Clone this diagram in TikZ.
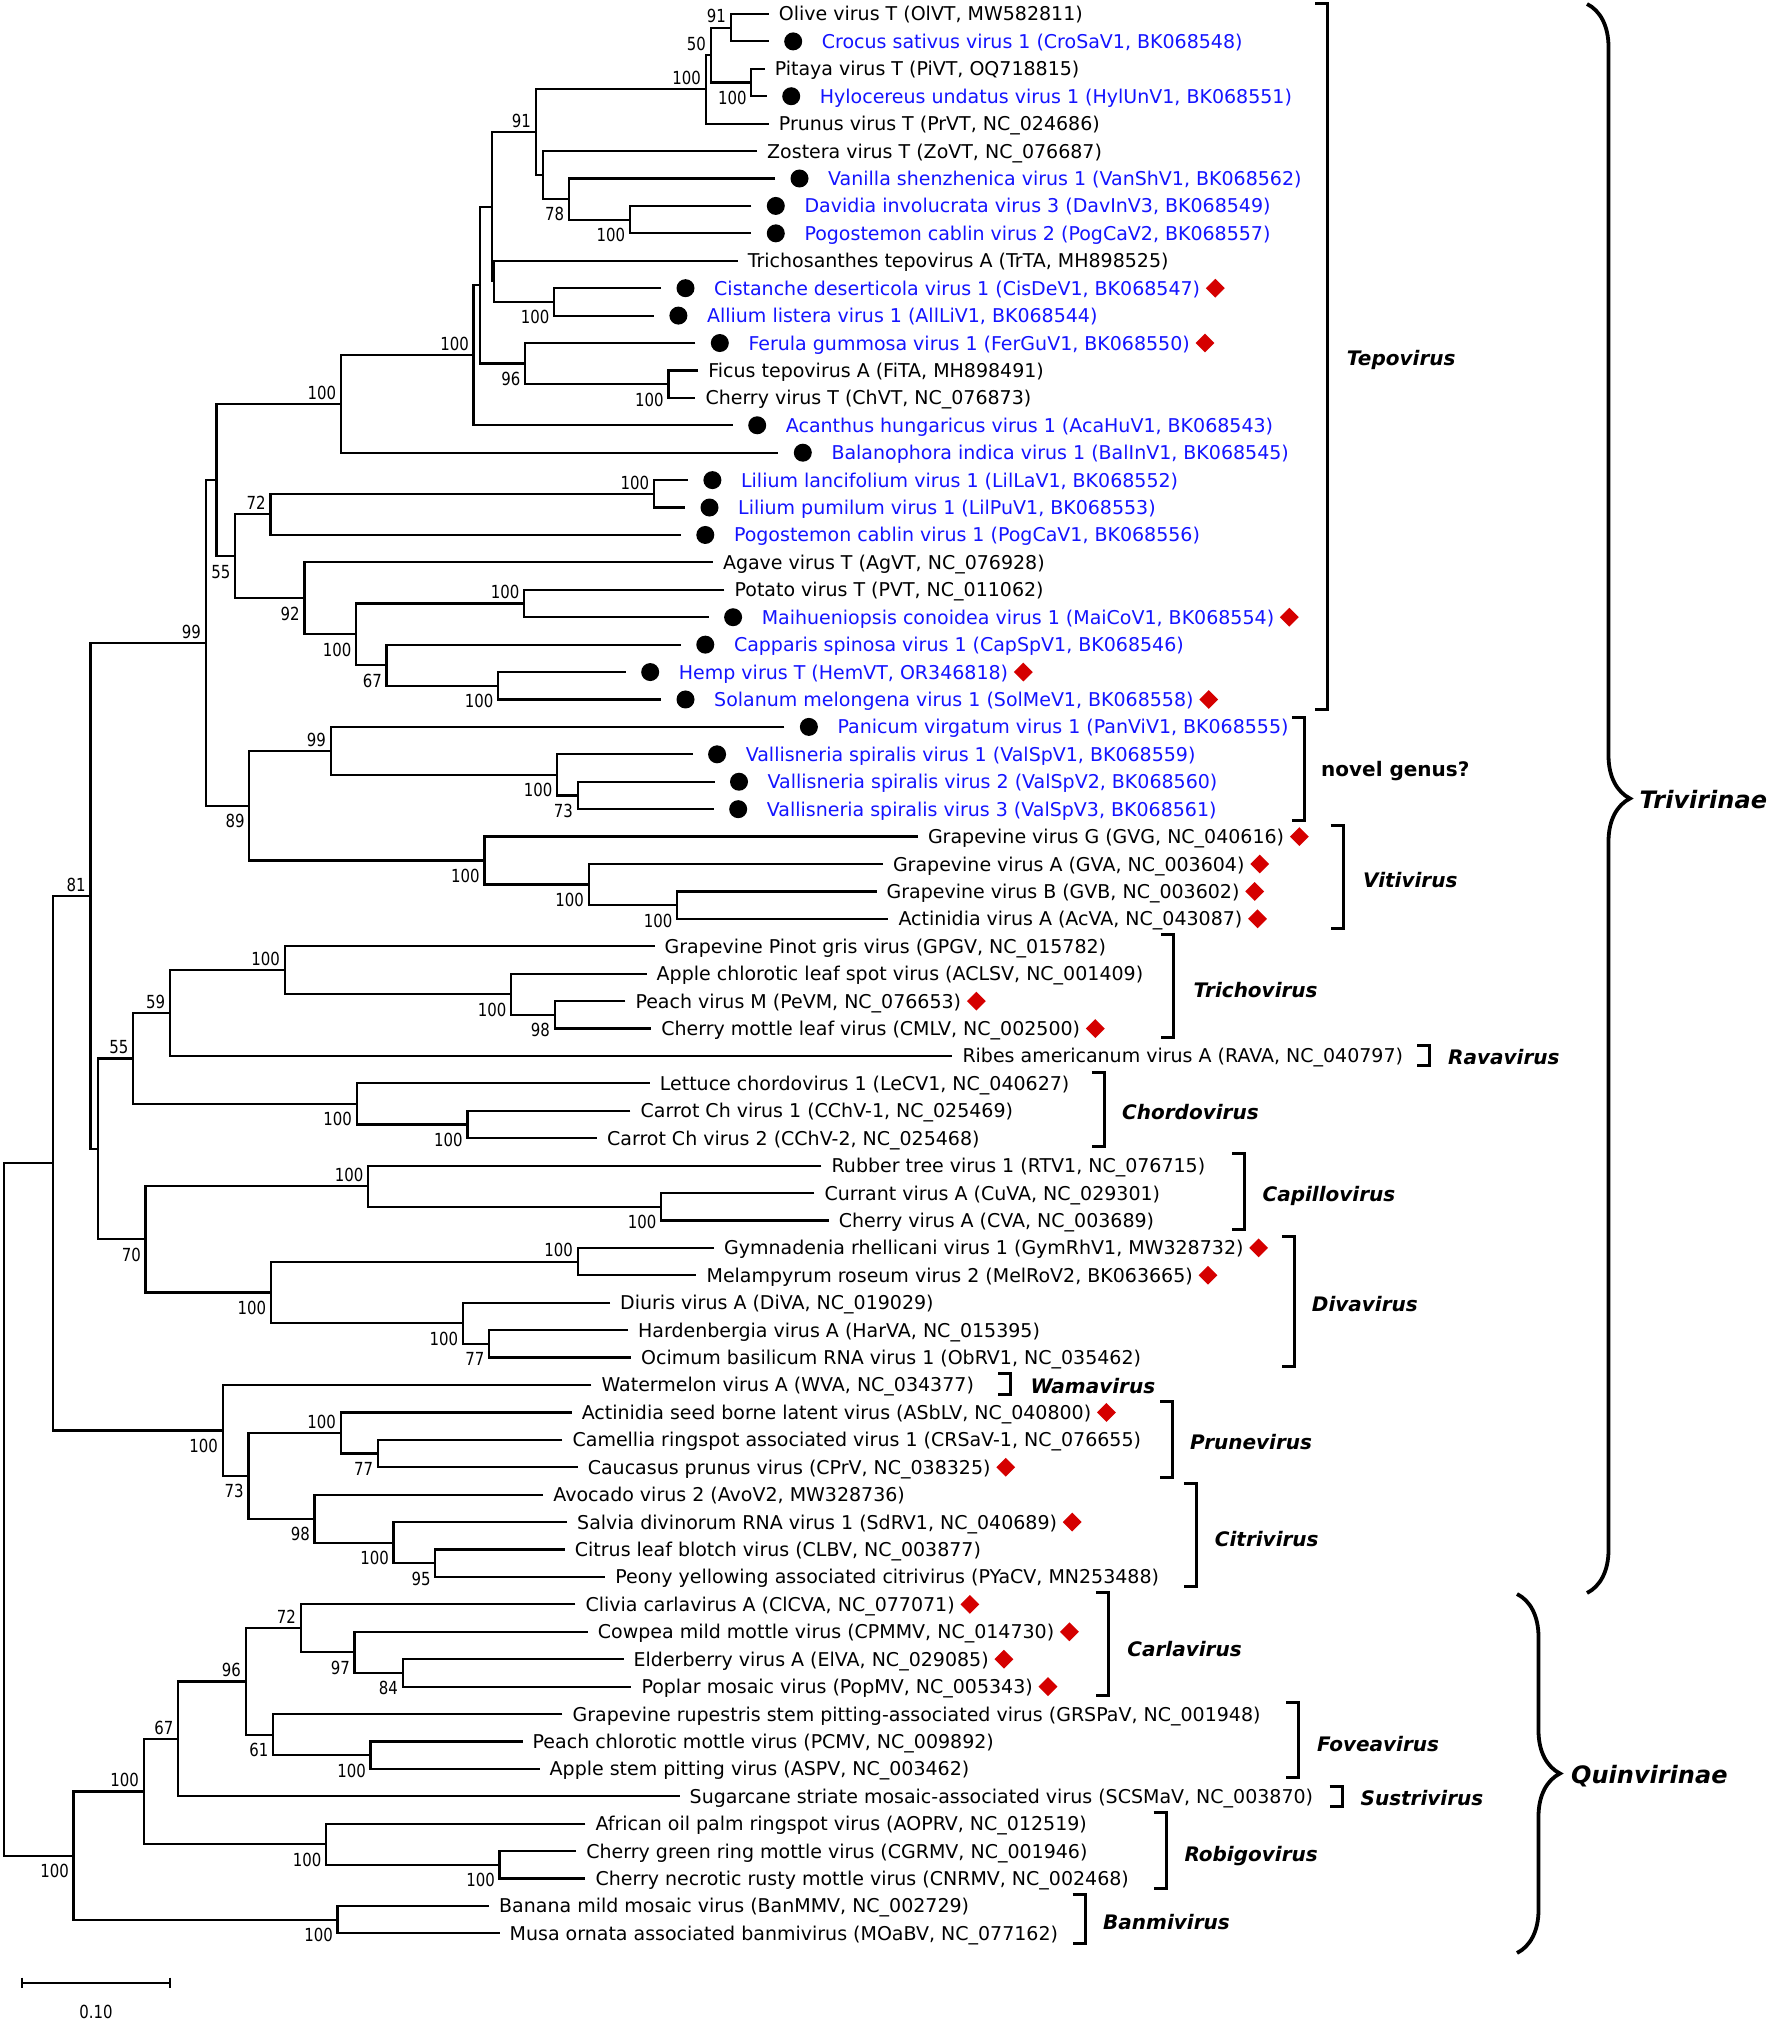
\documentclass[tikz,border=0pt]{standalone}
\usepackage{fontspec}
\setmainfont{DejaVu Sans}
\newfontfamily\bsfont[FakeStretch=0.83]{DejaVu Sans}
\usetikzlibrary{calc,shapes.geometric,decorations.pathreplacing}
\definecolor{vblue}{RGB}{20,20,255}
\definecolor{dred}{RGB}{213,0,0}
% leaf (black): name, end x, row, text
\newcommand\mkLK[4]{\coordinate (#1) at (#2,{ry(#3)});
  \node[tx] (#1t) at ([xshift=10pt,yshift=-7pt]#1) {#4};}
% leaf (blue, dot): name, end x, row, text
\newcommand\mkLB[4]{\coordinate (#1) at (#2,{ry(#3)});
  \node[dotb] (#1d) at ([xshift=24.5pt]#1) {};
  \node[tx,text=vblue] (#1t) at ([xshift=53pt,yshift=-7pt]#1) {#4};}
% red diamond after a leaf text
\newcommand\mkDM[1]{\node[diam] (#1m) at ([xshift=15pt,yshift=7pt]#1t.base east) {};}
% internal node: name, x, upper child, lower child
\newcommand\mkIN[4]{\path let \p1=(#3), \p2=(#4) in coordinate (#1) at (#2pt,{0.5*(\y1+\y2)});
  \draw[br] (#3) -| (#1) |- (#4);}
% bootstrap above / below
\newcommand\mkBa[2]{\node[bs] (#1L) at ([xshift=-4.5pt,yshift=4.8pt]#1) {#2};}
\newcommand\mkBb[2]{\node[bs] (#1L) at ([xshift=-4.5pt,yshift=-21.9pt]#1) {#2};}
% bracket: name, x, ytop, ybottom (image coordinates)
\newcommand\mkBrk[4]{\coordinate (#1a) at ({#2-12.5},{fy(#3)});
  \coordinate (#1b) at (#2,{fy(#3)});
  \coordinate (#1c) at (#2,{fy(#4)});
  \coordinate (#1d) at ({#2-12.5},{fy(#4)});
  \draw[bk] (#1a) -- (#1b) -- (#1c) -- (#1d);}
% clade label: name, x, y centre (image coordinates), text
\newcommand\mkCl[4]{\node[cl] (#1) at (#2,{fy(#3)-7.3}) {#4};}
\begin{document}
\begin{tikzpicture}[x=1pt,y=1pt,
  declare function={ry(\x)=2008-(\x-1)*27.42; fy(\x)=2022-\x;},
  br/.style={line width=2.2pt},
  bk/.style={line width=3pt},
  bc/.style={line width=3.8pt, decorate, decoration={brace, amplitude=43pt}},
  tx/.style={anchor=base west, inner sep=0pt, font=\fontsize{19}{22}\selectfont},
  bs/.style={anchor=base east, inner sep=0pt, font=\bsfont\fontsize{18}{20}\selectfont},
  dotb/.style={circle, fill=black, minimum size=18pt, inner sep=0pt},
  diam/.style={diamond, aspect=1, fill=dred, minimum width=19pt, minimum height=19pt, inner sep=0pt},
  cl/.style={anchor=base west, inner sep=0pt, font=\fontsize{20}{24}\selectfont\bfseries\itshape},
  sub/.style={anchor=base west, inner sep=0pt, font=\fontsize{24}{28}\selectfont\bfseries\itshape},
]
\path[use as bounding box, fill=white] (0,0) rectangle (1772,2022);

% ---------- leaves ----------
\mkLK{L1}{768.7}{1}{Olive virus T (OlVT, MW582811)}
\mkLB{L2}{768.7}{2}{Crocus sativus virus 1 (CroSaV1, BK068548)}
\mkLK{L3}{764.6}{3}{Pitaya virus T (PiVT, OQ718815)}
\mkLB{L4}{766.7}{4}{Hylocereus undatus virus 1 (HylUnV1, BK068551)}
\mkLK{L5}{768.7}{5}{Prunus virus T (PrVT, NC\_024686)}
\mkLK{L6}{757}{6}{Zostera virus T (ZoVT, NC\_076687)}
\mkLB{L7}{775}{7}{Vanilla shenzhenica virus 1 (VanShV1, BK068562)}
\mkLB{L8}{751.3}{8}{Davidia involucrata virus 3 (DavInV3, BK068549)}
\mkLB{L9}{751.3}{9}{Pogostemon cablin virus 2 (PogCaV2, BK068557)}
\mkLK{L10}{737.6}{10}{Trichosanthes tepovirus A (TrTA, MH898525)}
\mkLB{L11}{661}{11}{Cistanche deserticola virus 1 (CisDeV1, BK068547)} \mkDM{L11}
\mkLB{L12}{653.9}{12}{Allium listera virus 1 (AllLiV1, BK068544)}
\mkLB{L13}{695.3}{13}{Ferula gummosa virus 1 (FerGuV1, BK068550)} \mkDM{L13}
\mkLK{L14}{698.2}{14}{Ficus tepovirus A (FiTA, MH898491)}
\mkLK{L15}{695.3}{15}{Cherry virus T (ChVT, NC\_076873)}
\mkLB{L16}{732.7}{16}{Acanthus hungaricus virus 1 (AcaHuV1, BK068543)}
\mkLB{L17}{778.3}{17}{Balanophora indica virus 1 (BalInV1, BK068545)}
\mkLB{L18}{687.9}{18}{Lilium lancifolium virus 1 (LilLaV1, BK068552)}
\mkLB{L19}{685}{19}{Lilium pumilum virus 1 (LilPuV1, BK068553)}
\mkLB{L20}{680.8}{20}{Pogostemon cablin virus 1 (PogCaV1, BK068556)}
\mkLK{L21}{712.8}{21}{Agave virus T (AgVT, NC\_076928)}
\mkLK{L22}{724.4}{22}{Potato virus T (PVT, NC\_011062)}
\mkLB{L23}{708.6}{23}{Maihueniopsis conoidea virus 1 (MaiCoV1, BK068554)} \mkDM{L23}
\mkLB{L24}{680.8}{24}{Capparis spinosa virus 1 (CapSpV1, BK068546)}
\mkLB{L25}{625.7}{25}{Hemp virus T (HemVT, OR346818)} \mkDM{L25}
\mkLB{L26}{661}{26}{Solanum melongena virus 1 (SolMeV1, BK068558)} \mkDM{L26}
\mkLB{L27}{784.4}{27}{Panicum virgatum virus 1 (PanViV1, BK068555)}
\mkLB{L28}{692.6}{28}{Vallisneria spiralis virus 1 (ValSpV1, BK068559)}
\mkLB{L29}{714.5}{29}{Vallisneria spiralis virus 2 (ValSpV2, BK068560)}
\mkLB{L30}{713.7}{30}{Vallisneria spiralis virus 3 (ValSpV3, BK068561)}
\mkLK{L31}{917.8}{31}{Grapevine virus G (GVG, NC\_040616)} \mkDM{L31}
\mkLK{L32}{882.8}{32}{Grapevine virus A (GVA, NC\_003604)} \mkDM{L32}
\mkLK{L33}{876.5}{33}{Grapevine virus B (GVB, NC\_003602)} \mkDM{L33}
\mkLK{L34}{888.3}{34}{Actinidia virus A (AcVA, NC\_043087)} \mkDM{L34}
\mkLK{L35}{654.5}{35}{Grapevine Pinot gris virus (GPGV, NC\_015782)}
\mkLK{L36}{646.5}{36}{Apple chlorotic leaf spot virus (ACLSV, NC\_001409)}
\mkLK{L37}{625.3}{37}{Peach virus M (PeVM, NC\_076653)} \mkDM{L37}
\mkLK{L38}{651.1}{38}{Cherry mottle leaf virus (CMLV, NC\_002500)} \mkDM{L38}
\mkLK{L39}{952.3}{39}{Ribes americanum virus A (RAVA, NC\_040797)}
\mkLK{L40}{649.7}{40}{Lettuce chordovirus 1 (LeCV1, NC\_040627)}
\mkLK{L41}{630.4}{41}{Carrot Ch virus 1 (CChV-1, NC\_025469)}
\mkLK{L42}{596.9}{42}{Carrot Ch virus 2 (CChV-2, NC\_025468)}
\mkLK{L43}{821.4}{43}{Rubber tree virus 1 (RTV1, NC\_076715)}
\mkLK{L44}{814.3}{44}{Currant virus A (CuVA, NC\_029301)}
\mkLK{L45}{828.6}{45}{Cherry virus A (CVA, NC\_003689)}
\mkLK{L46}{714}{46}{Gymnadenia rhellicani virus 1 (GymRhV1, MW328732)} \mkDM{L46}
\mkLK{L47}{696.4}{47}{Melampyrum roseum virus 2 (MelRoV2, BK063665)} \mkDM{L47}
\mkLK{L48}{610}{48}{Diuris virus A (DiVA, NC\_019029)}
\mkLK{L49}{628}{49}{Hardenbergia virus A (HarVA, NC\_015395)}
\mkLK{L50}{631}{50}{Ocimum basilicum RNA virus 1 (ObRV1, NC\_035462)}
\mkLK{L51}{591.4}{51}{Watermelon virus A (WVA, NC\_034377)}
\mkLK{L52}{571.6}{52}{Actinidia seed borne latent virus (ASbLV, NC\_040800)} \mkDM{L52}
\mkLK{L53}{562.4}{53}{Camellia ringspot associated virus 1 (CRSaV-1, NC\_076655)}
\mkLK{L54}{577.6}{54}{Caucasus prunus virus (CPrV, NC\_038325)} \mkDM{L54}
\mkLK{L55}{543.2}{55}{Avocado virus 2 (AvoV2, MW328736)}
\mkLK{L56}{567}{56}{Salvia divinorum RNA virus 1 (SdRV1, NC\_040689)} \mkDM{L56}
\mkLK{L57}{564.7}{57}{Citrus leaf blotch virus (CLBV, NC\_003877)}
\mkLK{L58}{605.1}{58}{Peony yellowing associated citrivirus (PYaCV, MN253488)}
\mkLK{L59}{575.3}{59}{Clivia carlavirus A (ClCVA, NC\_077071)} \mkDM{L59}
\mkLK{L60}{587.7}{60}{Cowpea mild mottle virus (CPMMV, NC\_014730)} \mkDM{L60}
\mkLK{L61}{623.5}{61}{Elderberry virus A (ElVA, NC\_029085)} \mkDM{L61}
\mkLK{L62}{631.3}{62}{Poplar mosaic virus (PopMV, NC\_005343)} \mkDM{L62}
\mkLK{L63}{562.4}{63}{Grapevine rupestris stem pitting-associated virus (GRSPaV, NC\_001948)}
\mkLK{L64}{522.5}{64}{Peach chlorotic mottle virus (PCMV, NC\_009892)}
\mkLK{L65}{539.5}{65}{Apple stem pitting virus (ASPV, NC\_003462)}
\mkLK{L66}{679.5}{66}{Sugarcane striate mosaic-associated virus (SCSMaV, NC\_003870)}
\mkLK{L67}{585.4}{67}{African oil palm ringspot virus (AOPRV, NC\_012519)}
\mkLK{L68}{576.2}{68}{Cherry green ring mottle virus (CGRMV, NC\_001946)}
\mkLK{L69}{585.4}{69}{Cherry necrotic rusty mottle virus (CNRMV, NC\_002468)}
\mkLK{L70}{489}{70}{Banana mild mosaic virus (BanMMV, NC\_002729)}
\mkLK{L71}{499.5}{71}{Musa ornata associated banmivirus (MOaBV, NC\_077162)}

% ---------- internal nodes ----------
\mkIN{R}{730.6}{L1}{L2} \mkBa{R}{91}
\mkIN{S}{751.3}{L3}{L4} \mkBb{S}{100}
\mkIN{Q}{710.7}{R}{S} \mkBa{Q}{50}
\mkIN{P}{705.7}{Q}{L5} \mkBa{P}{100}
\mkIN{DP}{629.8}{L8}{L9} \mkBb{DP}{100}
\mkIN{NS}{568.9}{L7}{DP} \mkBb{NS}{78}
\mkIN{Z}{542.8}{L6}{NS}
\mkIN{T}{535.7}{P}{Z} \mkBa{T}{91}
\mkIN{CD}{554}{L11}{L12} \mkBb{CD}{100}
\mkIN{V}{494}{L10}{CD}
\mkIN{U}{491.8}{T}{V}
\mkIN{FC}{668.4}{L14}{L15} \mkBb{FC}{100}
\mkIN{X}{525}{L13}{FC} \mkBb{X}{96}
\mkIN{W}{479.8}{U}{X}
\mkIN{Y}{473.5}{W}{L16} \mkBa{Y}{100}
\mkIN{AA}{340.9}{Y}{L17} \mkBa{AA}{100}
\mkIN{LL}{653.9}{L18}{L19} \mkBa{LL}{100}
\mkIN{AN}{270.4}{LL}{L20} \mkBa{AN}{72}
\mkIN{AQ}{524.1}{L22}{L23} \mkBa{AQ}{100}
\mkIN{AS}{498}{L25}{L26} \mkBb{AS}{100}
\mkIN{AR}{386.5}{L24}{AS} \mkBb{AR}{67}
\mkIN{AP}{356.2}{AQ}{AR} \mkBb{AP}{100}
\mkIN{AO}{304.4}{L21}{AP} \mkBb{AO}{92}
\mkIN{AC}{235.1}{AN}{AO} \mkBb{AC}{55}
\mkIN{AB}{216.5}{AA}{AC}
\mkIN{AW}{577.6}{L29}{L30} \mkBb{AW}{73}
\mkIN{AV}{557}{L28}{AW} \mkBb{AV}{100}
\mkIN{AT}{330.6}{L27}{AV} \mkBa{AT}{99}
\mkIN{AY}{677.2}{L33}{L34} \mkBb{AY}{100}
\mkIN{AX}{588.6}{L32}{AY} \mkBb{AX}{100}
\mkIN{AU}{484.4}{L31}{AX} \mkBb{AU}{100}
\mkIN{AE}{249.3}{AT}{AU} \mkBb{AE}{89}
\mkIN{AD}{205.7}{AB}{AE} \mkBa{AD}{99}
\mkIN{AM}{554.6}{L37}{L38} \mkBb{AM}{98}
\mkIN{AL}{511}{L36}{AM} \mkBb{AL}{100}
\mkIN{AK}{284.7}{L35}{AL} \mkBa{AK}{100}
\mkIN{AI}{169.9}{AK}{L39} \mkBa{AI}{59}
\mkIN{AZ}{467.4}{L41}{L42} \mkBb{AZ}{100}
\mkIN{AJ}{356.7}{L40}{AZ} \mkBb{AJ}{100}
\mkIN{AH}{133.1}{AI}{AJ} \mkBa{AH}{55}
\mkIN{BD}{661.2}{L44}{L45} \mkBb{BD}{100}
\mkIN{BB}{368.2}{L43}{BD} \mkBa{BB}{100}
\mkIN{BE}{577.6}{L46}{L47} \mkBa{BE}{100}
\mkIN{BG}{489}{L49}{L50} \mkBb{BG}{77}
\mkIN{BF}{462.8}{L48}{BG} \mkBb{BF}{100}
\mkIN{BC}{270.9}{BE}{BF} \mkBb{BC}{100}
\mkIN{BA}{145.5}{BB}{BC} \mkBb{BA}{70}
\mkIN{AG}{97.8}{AH}{BA}
\mkIN{AF}{90.4}{AD}{AG} \mkBa{AF}{81}
\mkIN{BL}{377.9}{L53}{L54} \mkBb{BL}{77}
\mkIN{BJ}{340.7}{L52}{BL} \mkBa{BJ}{100}
\mkIN{BN}{435.3}{L57}{L58} \mkBb{BN}{95}
\mkIN{BM}{393.5}{L56}{BN} \mkBb{BM}{100}
\mkIN{BK}{314.5}{L55}{BM} \mkBb{BK}{98}
\mkIN{BI}{248.4}{BJ}{BK} \mkBb{BI}{73}
\mkIN{BH}{222.7}{L51}{BI} \mkBb{BH}{100}
\mkIN{CA}{52.8}{AF}{BH}
\mkIN{BQ}{402.7}{L61}{L62} \mkBb{BQ}{84}
\mkIN{BP}{354.5}{L60}{BQ} \mkBb{BP}{97}
\mkIN{BO}{300.7}{L59}{BP} \mkBa{BO}{72}
\mkIN{BT}{370.5}{L64}{L65} \mkBb{BT}{100}
\mkIN{BS}{273.2}{L63}{BT} \mkBb{BS}{61}
\mkIN{BR}{245.6}{BO}{BS} \mkBa{BR}{96}
\mkIN{BU}{178.1}{BR}{L66} \mkBa{BU}{67}
\mkIN{BX}{499.5}{L68}{L69} \mkBb{BX}{100}
\mkIN{BW}{326}{L67}{BX} \mkBb{BW}{100}
\mkIN{BV}{143.7}{BU}{BW} \mkBa{BV}{100}
\mkIN{BZ}{337.5}{L70}{L71} \mkBb{BZ}{100}
\mkIN{BY}{73.5}{BV}{BZ} \mkBb{BY}{100}
\mkIN{RT}{3.7}{CA}{BY}

% ---------- genus brackets ----------
\mkBrk{kTep}{1327.7}{4}{709.5}
\mkBrk{kNov}{1304.3}{718}{821}
\mkBrk{kVit}{1343.2}{825.8}{928.6}
\mkBrk{kTri}{1173.3}{935}{1038}
\mkBrk{kRav}{1429.8}{1045.8}{1065.8}
\mkBrk{kCho}{1104.4}{1072.3}{1146.7}
\mkBrk{kCap}{1244.7}{1153.7}{1229.5}
\mkBrk{kDiv}{1294.4}{1236.5}{1366.7}
\mkBrk{kWam}{1010.8}{1374}{1395}
\mkBrk{kPru}{1172.7}{1401.3}{1477.4}
\mkBrk{kCit}{1196.3}{1483.5}{1586.6}
\mkBrk{kCar}{1108.3}{1592.8}{1695.9}
\mkBrk{kFov}{1298.5}{1702.4}{1777.7}
\mkBrk{kSus}{1342}{1786.3}{1806.3}
\mkBrk{kRob}{1166}{1812.5}{1888.2}
\mkBrk{kBan}{1085.2}{1894.7}{1943.8}

\mkCl{cTep}{1346.7}{358.7}{Tepovirus}
\node[cl, font=\fontsize{20}{24}\selectfont\bfseries] (cNov) at (1321,{fy(769)-7.3}) {novel genus?};
\mkCl{cVit}{1362.9}{880.7}{Vitivirus}
\mkCl{cTri}{1193.5}{990}{Trichovirus}
\mkCl{cRav}{1448}{1057.4}{Ravavirus}
\mkCl{cCho}{1122}{1112.3}{Chordovirus}
\mkCl{cCap}{1262.4}{1194.7}{Capillovirus}
\mkCl{cDiv}{1311.7}{1304}{Divavirus}
\mkCl{cWam}{1030.5}{1386.3}{Wamavirus}
\mkCl{cPru}{1190}{1442.6}{Prunevirus}
\mkCl{cCit}{1214.7}{1538.8}{Citrivirus}
\mkCl{cCar}{1127.2}{1648.8}{Carlavirus}
\mkCl{cFov}{1317}{1744.2}{Foveavirus}
\mkCl{cSus}{1360.4}{1798.2}{Sustrivirus}
\mkCl{cRob}{1184.3}{1853.8}{Robigovirus}
\mkCl{cBan}{1103}{1922.1}{Banmivirus}

% ---------- subfamily braces ----------
\coordinate (triA) at (1587,{fy(4)});
\coordinate (triB) at (1587,{fy(1593)});
\draw[bc] (triA) -- (triB);
\node[sub] (cTriv) at (1639.5,{fy(800)-8.75}) {Trivirinae};
\coordinate (quiA) at (1517,{fy(1594)});
\coordinate (quiB) at (1517,{fy(1953)});
\draw[bc] (quiA) -- (quiB);
\node[sub] (cQuin) at (1571,{fy(1775)-8.75}) {Quinvirinae};

% ---------- scale bar ----------
\coordinate (sbA) at (22,{fy(1982.7)});
\coordinate (sbB) at (169.9,{fy(1982.7)});
\draw[br] (sbA) -- (sbB);
\draw[br] ([yshift=5pt]sbA) -- ([yshift=-5pt]sbA);
\draw[br] ([yshift=5pt]sbB) -- ([yshift=-5pt]sbB);
\node[bs, anchor=base] (sbL) at (96,{fy(2011.7)-6.5}) {0.10};
\end{tikzpicture}
\end{document}
